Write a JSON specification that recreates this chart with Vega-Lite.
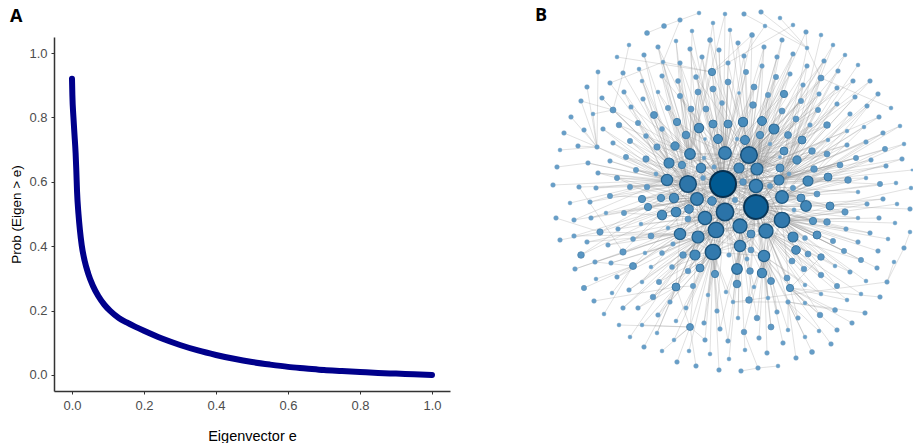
{"$schema":"https://vega.github.io/schema/vega-lite/v6.json","background":"white","padding":{"left":9,"top":6,"right":0,"bottom":0},"spacing":85,"config":{"view":{"stroke":null},"font":"Liberation Sans"},
"datasets":{"curve":[{"e":0,"p":0.92},{"e":0.001,"p":0.87},{"e":0.004,"p":0.8},{"e":0.007,"p":0.745},{"e":0.01,"p":0.69},{"e":0.012,"p":0.635},{"e":0.014,"p":0.57},{"e":0.018,"p":0.5},{"e":0.022,"p":0.45},{"e":0.027,"p":0.403},{"e":0.035,"p":0.355},{"e":0.045,"p":0.315},{"e":0.058,"p":0.277},{"e":0.073,"p":0.245},{"e":0.09,"p":0.218},{"e":0.106,"p":0.199},{"e":0.13,"p":0.177},{"e":0.152,"p":0.163},{"e":0.175,"p":0.15},{"e":0.2,"p":0.137},{"e":0.25,"p":0.113},{"e":0.3,"p":0.093},{"e":0.35,"p":0.076},{"e":0.4,"p":0.062},{"e":0.45,"p":0.05},{"e":0.5,"p":0.04},{"e":0.55,"p":0.032},{"e":0.6,"p":0.025},{"e":0.65,"p":0.02},{"e":0.7,"p":0.015},{"e":0.75,"p":0.012},{"e":0.8,"p":0.009},{"e":0.85,"p":0.006},{"e":0.9,"p":0.004},{"e":0.95,"p":0.002},{"e":1,"p":0}],
"nodes":[
{"id":"A","x":723,"y":184,"k":78,"to":["B","C","D","E","F","G","H","I","J","K","L","M","N","O","P","Q","R","S","T","U","V","W","X","Y","Z"]},
{"id":"B","x":756,"y":207,"k":72,"to":["C","D","E","F","G","H","I","J","K","L","M","N","O","P","Q","R","S","T","U","V","W","X","Y","Z"]},
{"id":"C","x":749,"y":155,"k":50,"to":["D","E","F","G","H","I","J","K","L","M","N","O","P","Q","R","S","T","U","V","W","X","Y","Z"]},
{"id":"D","x":688,"y":184,"k":50,"to":["E","F","G","H","I","J","K","L","M","N","O","P","Q","R","S","T","U","W","X","Y","Z"]},
{"id":"E","x":725,"y":212,"k":52,"to":["F","G","H","I","J","K","L","M","N","O","P","Q","R","S","T","U","V","W","X","Y","Z"]},
{"id":"F","x":716,"y":230,"k":46,"to":["G","H","I","J","K","L","M","N","O","P","Q","R","S","T","U","V","W","X","Y"]},
{"id":"G","x":713,"y":252,"k":46,"to":["H","I","J","K","M","N","O","P","Q","R","T","U","V","W","X","Y","Z"]},
{"id":"H","x":782,"y":220,"k":46,"to":["I","J","K","L","M","N","O","P","Q","T","U","V","X","Y","Z"]},
{"id":"I","x":705,"y":218,"k":40,"to":["J","K","L","N","Q","R","S","W","X","Y","Z"]},
{"id":"J","x":725,"y":153,"k":38,"to":["K","L","M","N","O","Q","S","T","Y","Z"]},
{"id":"K","x":697,"y":199,"k":38,"to":["L","M","N","Q","R","S","W","X","Y","Z"]},
{"id":"L","x":690,"y":154,"k":32,"to":["O","Q","R","S","Y","Z"]},
{"id":"M","x":782,"y":197,"k":38,"to":["N","O","P","Q","T","V","Z"]},
{"id":"N","x":757,"y":169,"k":36,"to":["O","P","Q","T","Y","Z"]},
{"id":"O","x":740,"y":226,"k":42,"to":["P","Q","T","U","V","X","Z"]},
{"id":"P","x":766,"y":231,"k":42,"to":["Q","T","U","V","Z"]},
{"id":"Q","x":756,"y":186,"k":40,"to":["T","U","Z"]},
{"id":"R","x":667,"y":180,"k":34,"to":["S","W"]},
{"id":"S","x":669,"y":163,"k":30,"to":["Y"]},
{"id":"T","x":779,"y":180,"k":30,"to":["Z"]},
{"id":"U","x":740,"y":246,"k":34,"to":["V","X"]},
{"id":"V","x":764,"y":256,"k":34,"to":[]},
{"id":"W","x":680,"y":234,"k":34,"to":["X"]},
{"id":"X","x":698,"y":237,"k":36,"to":[]},
{"id":"Y","x":701,"y":168,"k":28,"to":["Z"]},
{"id":"Z","x":739,"y":168,"k":30,"to":[]},
{"id":"a","x":613,"y":110,"k":18,"to":["D","S","L"]},
{"id":"b","x":597,"y":147,"k":14,"to":["D","R"]},
{"id":"c","x":712,"y":72,"k":22,"to":["A","J","L","C"]},
{"id":"d","x":663,"y":62,"k":12,"to":["D","L","c"]},
{"id":"e","x":676,"y":287,"k":24,"to":["G","X","F","W"]},
{"id":"f","x":690,"y":327,"k":21,"to":["X","G","e"]},
{"id":"g","x":821,"y":78,"k":18,"to":["C","N","T","M"]},
{"id":"h","x":808,"y":181,"k":30,"to":["A","B","C","Q","N","M"]},
{"id":"i","x":790,"y":288,"k":22,"to":["B","V","P","H"]},
{"id":"j","x":600,"y":232,"k":19,"to":["D","K","W"]},
{"id":"k","x":623,"y":252,"k":19,"to":["D","I","W"]},
{"id":"l","x":633,"y":266,"k":21,"to":["E","K","W"]},
{"id":"m","x":654,"y":115,"k":21,"to":["D","A","L"]},
{"id":"n","x":827,"y":125,"k":20,"to":["C","N","A","B"]},
{"id":"o","x":830,"y":206,"k":24,"to":["B","A","H","Q"]},
{"id":"p","x":581,"y":255,"k":20,"to":["D","K"]},
{"id":"q","x":784,"y":94,"k":22,"to":["C","J","A","N"]},
{"x":699,"y":13,"k":12,"to":["r"]},
{"id":"r","x":680,"y":20,"k":14,"to":["d","s"]},
{"id":"s","x":664,"y":26,"k":15,"to":["t"]},
{"id":"t","x":647,"y":33,"k":15,"to":[]},
{"x":725,"y":14,"k":12,"to":["A","L"]},
{"x":713,"y":23,"k":12,"to":["J","D"]},
{"x":692,"y":31,"k":12,"to":["L","A"]},
{"x":730,"y":30,"k":12,"to":["A","C"]},
{"x":710,"y":40,"k":15,"to":["J","L","B"]},
{"x":676,"y":41,"k":12,"to":["D","L"]},
{"x":629,"y":45,"k":12,"to":["u"]},
{"id":"u","x":623,"y":73,"k":14,"to":["a","D"]},
{"x":658,"y":47,"k":14,"to":["L","D","A"]},
{"x":690,"y":49,"k":14,"to":["J","A","Y"]},
{"x":719,"y":50,"k":14,"to":["J","A"]},
{"x":617,"y":57,"k":12,"to":["c"]},
{"x":644,"y":55,"k":14,"to":["D","S"]},
{"x":702,"y":57,"k":14,"to":["J","L","A"]},
{"x":680,"y":63,"k":14,"to":["L","Y","A"]},
{"x":728,"y":63,"k":14,"to":["J","C"]},
{"x":639,"y":69,"k":12,"to":["S","D"]},
{"x":598,"y":72,"k":13,"to":["b"]},
{"x":662,"y":76,"k":14,"to":["L","D","J"]},
{"x":696,"y":77,"k":15,"to":["J","A","C"]},
{"x":610,"y":83,"k":14,"to":["d","S"]},
{"x":678,"y":81,"k":15,"to":["L","A","Y"]},
{"x":728,"y":82,"k":18,"to":["J","A","C","N"]},
{"x":642,"y":81,"k":12,"to":["S","D"]},
{"x":587,"y":87,"k":14,"to":["b"]},
{"x":624,"y":92,"k":14,"to":["R","D"]},
{"x":658,"y":92,"k":12,"to":["L","A"]},
{"x":713,"y":89,"k":18,"to":["J","A","N"]},
{"x":698,"y":92,"k":18,"to":["A","L","Y"]},
{"x":581,"y":101,"k":14,"to":["a","b"]},
{"x":602,"y":98,"k":14,"to":["a","D"]},
{"x":680,"y":96,"k":16,"to":["L","A","J"]},
{"x":643,"y":99,"k":14,"to":["D","S"]},
{"x":722,"y":103,"k":15,"to":["J","Y"]},
{"x":631,"y":107,"k":14,"to":["S","L"]},
{"x":668,"y":108,"k":16,"to":["L","D","A"]},
{"x":691,"y":109,"k":18,"to":["L","A","Y"]},
{"x":706,"y":109,"k":18,"to":["J","A","E"]},
{"x":571,"y":117,"k":14,"to":["b"]},
{"x":593,"y":114,"k":12,"to":["b","a"]},
{"x":619,"y":125,"k":17,"to":["D","S","L"]},
{"x":638,"y":123,"k":16,"to":["D","R"]},
{"x":677,"y":122,"k":22,"to":["L","A","D","J"]},
{"x":713,"y":124,"k":24,"to":["J","A","E","C"]},
{"x":699,"y":128,"k":28,"to":["A","L","Y","J"]},
{"x":728,"y":124,"k":24,"to":["J","C","A","B"]},
{"x":603,"y":129,"k":14,"to":["D","R"]},
{"x":584,"y":130,"k":14,"to":["b"]},
{"x":662,"y":129,"k":15,"to":["S","D","L"]},
{"x":564,"y":133,"k":14,"to":["b"]},
{"x":646,"y":136,"k":15,"to":["S","D","A"]},
{"x":686,"y":135,"k":23,"to":["A","L","D","J"]},
{"x":718,"y":139,"k":27,"to":["A","J","D","E"]},
{"x":705,"y":139,"k":10,"to":["A","I"]},
{"x":630,"y":141,"k":16,"to":["S","D","K"]},
{"x":613,"y":143,"k":14,"to":["R","D"]},
{"x":560,"y":150,"k":12,"to":["b"]},
{"x":578,"y":146,"k":14,"to":["b"]},
{"x":657,"y":147,"k":19,"to":["D","A","L"]},
{"x":675,"y":146,"k":25,"to":["A","D","L","I"]},
{"x":704,"y":158,"k":12,"to":["A","D"]},
{"x":626,"y":157,"k":16,"to":["R","D","A"]},
{"x":610,"y":161,"k":14,"to":["R","D"]},
{"x":646,"y":159,"k":19,"to":["D","A","K"]},
{"id":"v","x":588,"y":163,"k":14,"to":["R","D"]},
{"x":682,"y":165,"k":22,"to":["A","D","E","J"]},
{"x":714,"y":167,"k":14,"to":["A","E"]},
{"x":557,"y":167,"k":14,"to":["v"]},
{"x":598,"y":173,"k":14,"to":["R","D","K"]},
{"x":636,"y":170,"k":16,"to":["D","R","A"]},
{"x":656,"y":174,"k":13,"to":["D","E"]},
{"x":703,"y":178,"k":15,"to":["A","E"]},
{"x":617,"y":178,"k":16,"to":["D","R","I"]},
{"x":553,"y":185,"k":14,"to":["R"]},
{"x":579,"y":187,"k":14,"to":["D","k"]},
{"x":596,"y":188,"k":14,"to":["R","D"]},
{"x":630,"y":187,"k":16,"to":["D","R","K"]},
{"x":647,"y":187,"k":17,"to":["D","K","A"]},
{"x":744,"y":14,"k":14,"to":["w"]},
{"x":761,"y":12,"k":14,"to":["w"]},
{"x":780,"y":18,"k":12,"to":["w"]},
{"x":793,"y":25,"k":12,"to":["c"]},
{"x":765,"y":26,"k":12,"to":["x"]},
{"x":806,"y":32,"k":14,"to":["w","C"]},
{"x":821,"y":35,"k":12,"to":["M"]},
{"x":752,"y":35,"k":15,"to":["c","C","J"]},
{"x":738,"y":43,"k":14,"to":["J","C"]},
{"x":782,"y":40,"k":14,"to":["C","N"]},
{"x":764,"y":47,"k":14,"to":["C","N","A"]},
{"x":833,"y":45,"k":12,"to":["T","N"]},
{"id":"w","x":807,"y":48,"k":12,"to":["g","T"]},
{"id":"x","x":744,"y":56,"k":14,"to":["J","C"]},
{"x":777,"y":57,"k":14,"to":["C","N"]},
{"x":793,"y":54,"k":14,"to":["C","A","N"]},
{"x":845,"y":55,"k":12,"to":["T","C"]},
{"x":824,"y":61,"k":14,"to":["C","N","T"]},
{"x":858,"y":65,"k":12,"to":["T"]},
{"x":762,"y":66,"k":14,"to":["C","A"]},
{"x":807,"y":66,"k":14,"to":["C","N","M"]},
{"x":838,"y":71,"k":14,"to":["N","T"]},
{"x":746,"y":72,"k":16,"to":["C","J","A"]},
{"x":790,"y":74,"k":14,"to":["C","N","A"]},
{"x":776,"y":77,"k":16,"to":["C","A","Q"]},
{"x":870,"y":81,"k":14,"to":["T","N"]},
{"x":853,"y":81,"k":14,"to":["T","C"]},
{"x":754,"y":87,"k":18,"to":["C","A","J"]},
{"x":739,"y":93,"k":10,"to":["C","J"]},
{"x":803,"y":85,"k":14,"to":["C","N","T"]},
{"x":837,"y":88,"k":14,"to":["N","T","A"]},
{"x":768,"y":95,"k":16,"to":["C","N","Q"]},
{"x":819,"y":94,"k":14,"to":["N","T","C"]},
{"x":878,"y":94,"k":14,"to":["T","h"]},
{"x":855,"y":97,"k":14,"to":["T","N"]},
{"x":801,"y":101,"k":16,"to":["C","N","A"]},
{"x":753,"y":105,"k":20,"to":["C","A","J"]},
{"x":837,"y":104,"k":14,"to":["N","T","Q"]},
{"x":891,"y":108,"k":12,"to":["g"]},
{"x":867,"y":106,"k":14,"to":["T","M"]},
{"x":782,"y":111,"k":18,"to":["C","N","A","Q"]},
{"x":818,"y":110,"k":16,"to":["N","T","C"]},
{"x":850,"y":114,"k":14,"to":["T","M"]},
{"x":879,"y":117,"k":14,"to":["T","N"]},
{"x":796,"y":119,"k":18,"to":["N","C","A","Q"]},
{"x":743,"y":122,"k":28,"to":["C","J","A","B","Z"]},
{"x":762,"y":121,"k":27,"to":["C","A","N","Q"]},
{"x":810,"y":125,"k":14,"to":["N","T","A"]},
{"x":864,"y":127,"k":12,"to":["T","h"]},
{"x":900,"y":126,"k":12,"to":["T","M"]},
{"x":847,"y":131,"k":12,"to":["T","N"]},
{"x":774,"y":129,"k":30,"to":["C","A","N","B","Q"]},
{"x":760,"y":135,"k":22,"to":["C","A","Q","N"]},
{"x":883,"y":133,"k":14,"to":["T","M"]},
{"x":788,"y":135,"k":21,"to":["N","C","A","T"]},
{"x":737,"y":139,"k":12,"to":["A","J"]},
{"x":745,"y":140,"k":27,"to":["A","C","J","Z"]},
{"x":802,"y":140,"k":24,"to":["N","A","C","T"]},
{"x":828,"y":140,"k":12,"to":["T","N"]},
{"x":770,"y":144,"k":12,"to":["C","A"]},
{"x":866,"y":142,"k":14,"to":["T","M"]},
{"x":904,"y":144,"k":12,"to":["M","T"]},
{"x":847,"y":145,"k":14,"to":["T","N","A"]},
{"x":784,"y":151,"k":24,"to":["A","C","N","Q"]},
{"x":812,"y":151,"k":20,"to":["N","A","B"]},
{"x":885,"y":149,"k":16,"to":["T","M"]},
{"x":827,"y":154,"k":18,"to":["N","T","A"]},
{"x":780,"y":157,"k":11,"to":["A","N"]},
{"x":856,"y":158,"k":16,"to":["T","Q"]},
{"x":902,"y":159,"k":14,"to":["M","T"]},
{"x":797,"y":160,"k":25,"to":["A","N","Q","C"]},
{"x":871,"y":160,"k":14,"to":["T","M"]},
{"x":840,"y":165,"k":18,"to":["T","A","Q"]},
{"x":886,"y":166,"k":14,"to":["T","h"]},
{"x":780,"y":168,"k":24,"to":["A","B","Q","C"]},
{"x":814,"y":169,"k":20,"to":["A","T","Q"]},
{"x":912,"y":170,"k":8,"to":["h"]},
{"x":789,"y":174,"k":13,"to":["A","T"]},
{"x":743,"y":182,"k":20,"to":["A","B","Q"]},
{"x":828,"y":177,"k":24,"to":["A","Q","M"]},
{"x":848,"y":180,"k":20,"to":["M","Q","h"]},
{"x":866,"y":178,"k":12,"to":["M","T"]},
{"x":770,"y":186,"k":16,"to":["B","Q"]},
{"x":896,"y":183,"k":12,"to":["M"]},
{"x":880,"y":184,"k":16,"to":["M","h"]},
{"x":911,"y":188,"k":12,"to":["o"]},
{"x":793,"y":188,"k":16,"to":["A","B"]},
{"x":570,"y":203,"k":12,"to":["R"]},
{"x":590,"y":202,"k":14,"to":["R","D"]},
{"x":610,"y":196,"k":16,"to":["D","K"]},
{"x":642,"y":199,"k":22,"to":["D","K","A","I"]},
{"x":661,"y":198,"k":22,"to":["D","K","A"]},
{"x":674,"y":198,"k":28,"to":["D","A","E","K"]},
{"x":712,"y":201,"k":26,"to":["A","E","B","D"]},
{"x":556,"y":218,"k":14,"to":["j"]},
{"x":574,"y":220,"k":14,"to":["K","R"]},
{"x":591,"y":218,"k":14,"to":["D","K"]},
{"x":606,"y":213,"k":12,"to":["K"]},
{"x":624,"y":213,"k":16,"to":["D","I","K"]},
{"x":648,"y":207,"k":22,"to":["D","K","I","A"]},
{"x":662,"y":215,"k":28,"to":["K","A","D","I"]},
{"x":676,"y":212,"k":29,"to":["K","A","D","E"]},
{"x":689,"y":209,"k":26,"to":["A","E","D","I"]},
{"x":688,"y":219,"k":18,"to":["E","K"]},
{"x":641,"y":224,"k":12,"to":["K","I"]},
{"x":618,"y":229,"k":14,"to":["K","E"]},
{"x":574,"y":236,"k":14,"to":["K","W"]},
{"x":560,"y":240,"k":14,"to":["j"]},
{"x":587,"y":242,"k":14,"to":["W","I"]},
{"x":668,"y":228,"k":12,"to":["K","E"]},
{"x":651,"y":236,"k":18,"to":["I","F","A"]},
{"x":633,"y":239,"k":15,"to":["W","K","E"]},
{"x":608,"y":245,"k":14,"to":["I","W"]},
{"x":673,"y":244,"k":14,"to":["F","E"]},
{"x":645,"y":253,"k":12,"to":["X","I"]},
{"x":662,"y":253,"k":15,"to":["F","E","X"]},
{"x":683,"y":255,"k":20,"to":["E","F","G"]},
{"x":695,"y":255,"k":30,"to":["E","F","A","G"]},
{"x":729,"y":255,"k":14,"to":["E","B"]},
{"x":595,"y":262,"k":14,"to":["W","l"]},
{"x":611,"y":263,"k":14,"to":["X","F"]},
{"x":575,"y":269,"k":14,"to":["W","k"]},
{"x":651,"y":267,"k":12,"to":["F","X"]},
{"x":672,"y":267,"k":15,"to":["F","E","G"]},
{"x":688,"y":271,"k":17,"to":["E","F","A"]},
{"x":700,"y":268,"k":24,"to":["E","A","G","F"]},
{"x":715,"y":274,"k":22,"to":["E","A","G"]},
{"x":596,"y":279,"k":12,"to":["l"]},
{"x":617,"y":277,"k":14,"to":["X","I"]},
{"x":642,"y":282,"k":12,"to":["W","F"]},
{"x":659,"y":282,"k":16,"to":["F","G","E"]},
{"x":584,"y":288,"k":16,"to":["l"]},
{"x":629,"y":290,"k":14,"to":["F","X"]},
{"x":693,"y":286,"k":16,"to":["E","G","e"]},
{"x":612,"y":293,"k":12,"to":["l"]},
{"x":726,"y":292,"k":12,"to":["G","B"]},
{"x":708,"y":295,"k":12,"to":["G","E"]},
{"x":653,"y":297,"k":17,"to":["G","E","X"]},
{"x":594,"y":301,"k":14,"to":["e"]},
{"x":670,"y":302,"k":14,"to":["G","X"]},
{"x":623,"y":308,"k":14,"to":["X","F"]},
{"x":638,"y":308,"k":14,"to":["e","G"]},
{"x":686,"y":308,"k":13,"to":["G","F"]},
{"x":717,"y":311,"k":14,"to":["G","E"]},
{"x":604,"y":314,"k":12,"to":["l"]},
{"x":658,"y":315,"k":14,"to":["e","G"]},
{"x":676,"y":321,"k":12,"to":["G"]},
{"x":704,"y":323,"k":14,"to":["G","E"]},
{"x":619,"y":325,"k":12,"to":["f"]},
{"x":642,"y":325,"k":12,"to":["f","e"]},
{"x":720,"y":329,"k":14,"to":["G","U"]},
{"x":657,"y":333,"k":12,"to":["e","X"]},
{"x":630,"y":337,"k":12,"to":["X"]},
{"x":674,"y":340,"k":12,"to":["G","f"]},
{"x":705,"y":340,"k":14,"to":["f","G"]},
{"x":728,"y":341,"k":14,"to":["U","G"]},
{"x":644,"y":347,"k":14,"to":["e"]},
{"x":662,"y":351,"k":12,"to":["f"]},
{"x":689,"y":351,"k":12,"to":["G"]},
{"x":710,"y":354,"k":12,"to":["G"]},
{"x":729,"y":359,"k":12,"to":["U"]},
{"x":677,"y":362,"k":14,"to":["f"]},
{"x":696,"y":366,"k":14,"to":["f"]},
{"x":719,"y":370,"k":14,"to":["G"]},
{"x":735,"y":200,"k":16,"to":["A","B"]},
{"x":801,"y":198,"k":24,"to":["B","A","M","Q"]},
{"x":817,"y":194,"k":18,"to":["A","B","Q"]},
{"x":806,"y":206,"k":32,"to":["B","A","H","M","C"]},
{"x":845,"y":212,"k":19,"to":["B","M","H"]},
{"x":858,"y":192,"k":12,"to":["M","Q"]},
{"x":883,"y":199,"k":14,"to":["B","o"]},
{"x":867,"y":204,"k":14,"to":["B","H"]},
{"x":897,"y":204,"k":12,"to":["H"]},
{"x":910,"y":209,"k":14,"to":["o"]},
{"x":794,"y":210,"k":13,"to":["B"]},
{"x":813,"y":221,"k":22,"to":["B","A","H"]},
{"x":827,"y":222,"k":20,"to":["B","H","A"]},
{"x":858,"y":218,"k":12,"to":["H","B"]},
{"x":879,"y":218,"k":14,"to":["H"]},
{"x":895,"y":223,"k":12,"to":["H"]},
{"x":751,"y":234,"k":24,"to":["B","E","O"]},
{"x":846,"y":229,"k":14,"to":["H","B"]},
{"x":870,"y":233,"k":14,"to":["H","B"]},
{"x":888,"y":239,"k":12,"to":["H"]},
{"id":"y","x":910,"y":232,"k":12,"to":["z"]},
{"x":793,"y":237,"k":30,"to":["B","H","A","P"]},
{"x":805,"y":238,"k":15,"to":["B","H"]},
{"x":817,"y":235,"k":24,"to":["B","H","A"]},
{"x":833,"y":241,"k":16,"to":["H","B"]},
{"x":858,"y":242,"k":14,"to":["H","B"]},
{"id":"z","x":904,"y":248,"k":14,"to":["aa"]},
{"x":751,"y":250,"k":18,"to":["B","U"]},
{"x":796,"y":250,"k":26,"to":["B","H","P"]},
{"x":808,"y":254,"k":18,"to":["B","H"]},
{"x":821,"y":257,"k":20,"to":["H","B","i"]},
{"x":844,"y":251,"k":16,"to":["H","B"]},
{"x":878,"y":251,"k":14,"to":["H"]},
{"x":747,"y":259,"k":13,"to":["B","O"]},
{"x":792,"y":261,"k":18,"to":["B","P"]},
{"x":861,"y":260,"k":16,"to":["H","P"]},
{"x":894,"y":262,"k":12,"to":["aa"]},
{"x":835,"y":266,"k":12,"to":["P","H"]},
{"x":804,"y":269,"k":17,"to":["P","B","H"]},
{"x":877,"y":268,"k":14,"to":["H"]},
{"x":737,"y":269,"k":32,"to":["B","E","O","A"]},
{"x":750,"y":271,"k":20,"to":["B","O","E"]},
{"x":762,"y":273,"k":28,"to":["B","O","P","H"]},
{"x":850,"y":272,"k":14,"to":["P","H"]},
{"x":821,"y":275,"k":17,"to":["P","B","H"]},
{"x":787,"y":278,"k":18,"to":["P","B"]},
{"x":771,"y":281,"k":21,"to":["B","P","O"]},
{"x":866,"y":281,"k":12,"to":["H"]},
{"x":737,"y":284,"k":23,"to":["O","E","B"]},
{"x":805,"y":285,"k":12,"to":["V","P"]},
{"x":837,"y":286,"k":16,"to":["P","H"]},
{"id":"aa","x":887,"y":282,"k":14,"to":["ab"]},
{"x":754,"y":287,"k":12,"to":["O","V"]},
{"x":821,"y":294,"k":12,"to":["P","V"]},
{"x":861,"y":294,"k":12,"to":["P"]},
{"x":847,"y":300,"k":12,"to":["i","P"]},
{"x":880,"y":297,"k":14,"to":["i"]},
{"id":"ab","x":733,"y":302,"k":12,"to":["O","G"]},
{"x":749,"y":300,"k":20,"to":["O","V","B"]},
{"x":768,"y":298,"k":12,"to":["V","B"]},
{"id":"ac","x":788,"y":302,"k":14,"to":["V","P","ab"]},
{"x":805,"y":303,"k":12,"to":["i","V"]},
{"x":777,"y":312,"k":14,"to":["V","P"]},
{"x":835,"y":310,"k":15,"to":["ac","i"]},
{"x":865,"y":313,"k":14,"to":["ac"]},
{"x":820,"y":315,"k":17,"to":["i","P"]},
{"x":757,"y":318,"k":17,"to":["V","O"]},
{"x":738,"y":318,"k":12,"to":["U","O"]},
{"x":798,"y":318,"k":14,"to":["i","V"]},
{"x":852,"y":323,"k":14,"to":["i"]},
{"x":771,"y":327,"k":18,"to":["V","B"]},
{"x":788,"y":330,"k":12,"to":["V","ac"]},
{"x":837,"y":330,"k":14,"to":["i"]},
{"id":"ad","x":744,"y":332,"k":17,"to":["U","V"]},
{"x":819,"y":331,"k":12,"to":["ac"]},
{"x":805,"y":337,"k":12,"to":["ac"]},
{"x":759,"y":338,"k":14,"to":["V"]},
{"x":783,"y":343,"k":14,"to":["V"]},
{"x":831,"y":344,"k":14,"to":["i"]},
{"x":745,"y":350,"k":12,"to":["ad"]},
{"x":767,"y":353,"k":14,"to":["V"]},
{"x":812,"y":352,"k":15,"to":["ac"]},
{"x":796,"y":358,"k":14,"to":["ac"]},
{"id":"ae","x":758,"y":368,"k":14,"to":["ad","af"]},
{"x":778,"y":366,"k":12,"to":["ae"]},
{"id":"af","x":741,"y":371,"k":14,"to":[]}
]},
"hconcat":[
{"width":396,"height":354,
"title":{"text":"A","anchor":"start","font":"Open Sans","fontSize":18,"fontWeight":"bold","color":"black","offset":11},
"data":{"name":"curve"},
"mark":{"type":"line","color":"#00008B","strokeWidth":6,"strokeCap":"round","strokeJoin":"round","interpolate":"monotone"},
"encoding":{
"x":{"field":"e","type":"quantitative","scale":{"domain":[-0.05,1.05],"nice":false,"zero":false},"axis":{"title":"Eigenvector e","values":[0,0.2,0.4,0.6,0.8,1],"format":".1f","grid":false,"domainColor":"#333333","domainWidth":1.5,"tickColor":"#333333","tickSize":3,"labelColor":"#4d4d4d","labelFontSize":13,"labelFont":"Liberation Sans","titleFont":"Liberation Sans","titleFontSize":14.5,"titleFontWeight":"normal","titleColor":"black","titlePadding":17,"labelPadding":5}},
"y":{"field":"p","type":"quantitative","scale":{"domain":[-0.05,1.05],"nice":false,"zero":false},"axis":{"title":"Prob (Eigen > e)","values":[0,0.2,0.4,0.6,0.8,1],"format":".1f","grid":false,"domainColor":"#333333","domainWidth":1.5,"tickColor":"#333333","tickSize":3,"labelColor":"#4d4d4d","labelFontSize":13,"labelFont":"Liberation Sans","titleFont":"Liberation Sans","titleFontSize":13.5,"titleFontWeight":"normal","titleColor":"black","titlePadding":5,"labelPadding":4}}
}},
{"width":373,"height":354,
"title":{"text":"B","anchor":"start","frame":"group","font":"Open Sans","fontSize":18,"fontWeight":"bold","color":"black","dx":-5,"offset":-16},
"layer":[
{"data":{"name":"nodes"},
"transform":[{"flatten":["to"]},{"lookup":"to","from":{"data":{"name":"nodes"},"key":"id","fields":["x","y"]},"as":["tx","ty"]}],
"mark":{"type":"rule","color":"#8f8f8f","opacity":0.3,"strokeWidth":0.9},
"encoding":{
"x":{"field":"x","type":"quantitative","scale":{"domain":[540,913],"nice":false,"zero":false},"axis":null},
"y":{"field":"y","type":"quantitative","scale":{"domain":[37,391],"nice":false,"zero":false,"reverse":true},"axis":null},
"x2":{"field":"tx"},"y2":{"field":"ty"}}},
{"data":{"name":"nodes"},
"mark":{"type":"circle","opacity":1},
"encoding":{
"x":{"field":"x","type":"quantitative","scale":{"domain":[540,913],"nice":false,"zero":false},"axis":null},
"y":{"field":"y","type":"quantitative","scale":{"domain":[37,391],"nice":false,"zero":false,"reverse":true},"axis":null},
"order":{"field":"k","type":"quantitative"},
"size":{"field":"k","type":"quantitative","scale":{"type":"pow","exponent":2,"domain":[12,72],"range":[16,576]},"legend":null},
"color":{"field":"k","type":"quantitative","scale":{"domain":[12,30,78],"range":["#6aa1ca","#4389ba","#005a92"]},"legend":null},
"stroke":{"field":"k","type":"quantitative","scale":{"domain":[12,22,40,78],"range":["#7fa9c8","#3a76a1","#1d5780","#06304f"]},"legend":null},
"strokeWidth":{"field":"k","type":"quantitative","scale":{"domain":[12,30,78],"range":[0.4,1.1,2]},"legend":null}
}}
]}
],
"resolve":{"scale":{"x":"independent","y":"independent"}}}
